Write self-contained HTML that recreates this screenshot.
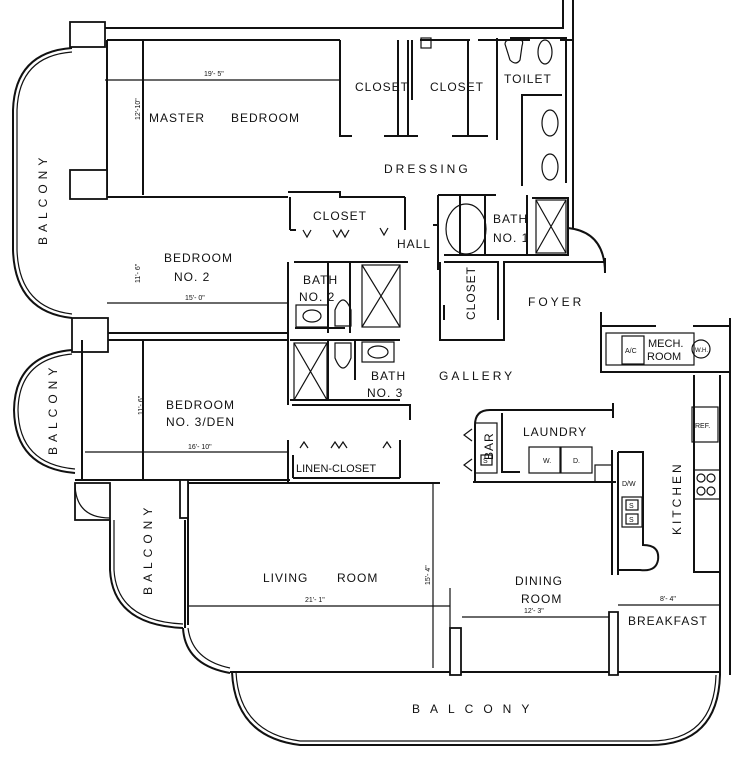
<!DOCTYPE html>
<html><head><meta charset="utf-8"><style>
body{margin:0;background:#fff;}
svg{display:block;}
text{font-family:"Liberation Sans",sans-serif;fill:#111;}
.w{fill:none;stroke:#111;stroke-width:2;}
.t{fill:none;stroke:#111;stroke-width:1.2;}
.f{fill:#fff;stroke:#111;stroke-width:1.8;}
</style></head><body>
<svg width="745" height="767" viewBox="0 0 745 767">
<path class="w" d="M105 28 H563 V0 M573 0 V185"/>
<path class="w" d="M107 40 H340 M340 40 V136 H352 M398 40 V136 M384 136 H418 M412 40 V100 M560 40 H573"/>
<rect class="f" x="70" y="22" width="35" height="25"/>
<path class="w" d="M107 40 V195 M143 40 V195"/>
<path class="w" d="M72 48 Q15 52 13 110 V250 Q15 312 72 318"/>
<path class="t" d="M72 52 Q19 56 17 110 V250 Q19 308 72 314"/>
<rect class="f" x="70" y="170" width="37" height="29"/>
<path class="w" d="M107 197 H288 M288 192 H340 V197 H405"/>
<path class="w" d="M408 40 V136 M420 40 H470 M468 40 V135 M452 136 H488 M478 40 H530"/>
<rect class="t" x="421" y="38" width="10" height="10"/>
<path class="w" d="M497 38 V140 M510 38 H566 V183 M562 95 H522 V186"/>
<path class="t" d="M505 44 Q505 40 510 40 H520 Q524 40 522 46 L520 60 Q516 66 510 60 Z"/>
<ellipse class="t" cx="545" cy="52" rx="7" ry="12"/>
<ellipse class="t" cx="550" cy="123" rx="8" ry="13"/>
<ellipse class="t" cx="550" cy="167" rx="8" ry="13"/>
<path class="w" d="M290 197 V230 M405 197 V230 M290 230 h6"/>
<path class="t" d="M303 230 l4 7 l4 -7 M333 230 l4 7 l4 -7 l4 7 l4 -7 M380 228 l4 7 l4 -7"/>
<path class="w" d="M107 318 V340 M107 333 H288 M288 262 V340 M294 262 H408 M328 262 V333 M350 262 V333 M295 328 H345"/>
<rect class="t" x="296" y="305" width="32" height="22"/>
<ellipse class="t" cx="312" cy="316" rx="9" ry="6"/>
<path class="t" d="M335 326 V310 Q343 290 351 310 V326 Z"/>
<rect class="t" x="362" y="265" width="38" height="62"/>
<path class="t" d="M362 265 L400 327 M400 265 L362 327"/>
<path class="w" d="M438 195 H496 M438 195 V270 M433 225 h6 M444 255 H568 V198 H532 M460 195 V255 M485 195 V255 M527 195 V255"/>
<ellipse class="t" cx="466" cy="229" rx="20" ry="25"/>
<rect class="t" x="536" y="200" width="30" height="53"/>
<path class="t" d="M536 200 L566 253 M566 200 L536 253"/>
<path class="w" d="M568 228 Q605 232 605 273 M605 258 V272 M573 185 V228"/>
<path class="w" d="M440 262 V340 H504 V262 H605 M444 262 H498 V320 M444 305 V320"/>
<rect class="f" x="72" y="318" width="36" height="34"/>
<path class="w" d="M72 350 Q15 355 14 410 Q15 468 75 473"/>
<path class="t" d="M72 354 Q19 359 18 410 Q19 464 75 469"/>
<path class="w" d="M82 340 V480 M108 340 H288 M143 340 V480"/>
<path class="w" d="M288 340 V405 M290 340 H400 M290 400 H400 M292 405 H410 V420 M328 340 V400 M355 340 V380"/>
<rect class="t" x="294" y="343" width="33" height="57"/>
<path class="t" d="M294 343 L327 400 M327 343 L294 400"/>
<path class="t" d="M335 343 V358 Q343 378 351 358 V343 Z"/>
<rect class="t" x="362" y="342" width="32" height="20"/>
<ellipse class="t" cx="378" cy="352" rx="10" ry="6"/>
<path class="w" d="M288 440 V482 M293 455 V478 M400 440 V478 M293 478 H400"/>
<path class="t" d="M300 448 l4 -6 l4 6 M331 448 l4 -6 l4 6 l4 -6 l4 6 M383 448 l4 -6 l4 6"/>
<path class="w" d="M75 480 H290 M185 483 H440 M188 483 V625 M185 520 V628"/>
<rect class="f" x="180" y="480" width="8" height="38"/>
<rect class="f" x="75" y="483" width="35" height="37"/>
<path class="t" d="M75 483 Q75 518 110 518"/>
<path class="w" d="M110 520 V570 Q113 625 183 628"/>
<path class="t" d="M114 520 V570 Q117 621 183 624"/>
<path class="w" d="M183 628 Q185 665 230 673"/>
<path class="t" d="M188 628 Q192 660 230 668"/>
<path class="w" d="M230 672 H720 M720 375 V675 M730 318 V675"/>
<path class="w" d="M232 672 Q235 737 300 745 H650 Q718 745 720 675"/>
<path class="t" d="M236 672 Q239 733 300 741 H650 Q714 741 716 675"/>
<path class="t" d="M433 483 V668 M188 606 H450 M462 617 H612 M618 605 H720 M105 80 H340 M143 40 V195 M107 303 H287 M85 452 H288 M450 588 V628"/>
<rect class="f" x="450" y="628" width="11" height="47"/>
<path class="f" d="M609 612 h9 v63 h-9 Z"/>
<path class="w" d="M475 482 V425 Q475 410 490 410 H613 M613 403 V418 M502 413 V472 H520 M473 482 H616 M612 450 V575 M618 452 V575 M618 452 H643 V545 Q660 545 658 560 Q656 572 640 570 H618"/>
<rect class="t" x="475" y="423" width="22" height="50"/>
<rect class="t" x="481" y="455" width="11" height="10"/>
<rect class="t" x="529" y="447" width="31" height="26"/>
<rect class="t" x="561" y="447" width="31" height="26"/>
<rect class="t" x="595" y="465" width="17" height="17"/>
<rect class="t" x="622" y="497" width="20" height="30"/>
<rect class="t" x="626" y="500" width="12" height="10"/>
<rect class="t" x="626" y="514" width="12" height="10"/>
<path class="t" d="M472 429 l-8 6 l8 6 M472 459 l-8 6 l8 6"/>
<path class="w" d="M601 312 V372 H730 M601 326 H656 M693 326 H730 M694 375 V572 H720"/>
<rect class="t" x="606" y="333" width="88" height="32"/>
<rect class="t" x="622" y="336" width="22" height="28"/>
<circle class="t" cx="701" cy="349" r="9"/>
<rect class="t" x="692" y="407" width="26" height="35"/>
<rect class="t" x="694" y="470" width="26" height="29"/>
<circle class="t" cx="701" cy="478" r="4"/><circle class="t" cx="711" cy="478" r="4"/><circle class="t" cx="701" cy="491" r="4"/><circle class="t" cx="711" cy="491" r="4"/>
<g font-size="12" letter-spacing="1">
<text x="149" y="122">MASTER</text><text x="231" y="122">BEDROOM</text>
<text x="355" y="91">CLOSET</text><text x="430" y="91">CLOSET</text>
<text x="504" y="83">TOILET</text>
<text x="384" y="173" letter-spacing="3">DRESSING</text>
<text x="313" y="220">CLOSET</text>
<text x="397" y="248">HALL</text>
<text x="493" y="223">BATH</text><text x="493" y="242">NO. 1</text>
<text x="164" y="262">BEDROOM</text><text x="174" y="281">NO. 2</text>
<text x="303" y="284">BATH</text><text x="299" y="301">NO. 2</text>
<text x="528" y="306" letter-spacing="3">FOYER</text>
<text x="371" y="380">BATH</text><text x="367" y="397">NO. 3</text>
<text x="439" y="380" letter-spacing="3">GALLERY</text>
<text x="166" y="409">BEDROOM</text><text x="166" y="426">NO. 3/DEN</text>
<text x="296" y="472" font-size="11" letter-spacing="0">LINEN-CLOSET</text>
<text x="523" y="436">LAUNDRY</text>
<text x="648" y="347" font-size="11" letter-spacing="0">MECH.</text>
<text x="647" y="360" font-size="11" letter-spacing="0">ROOM</text>
<text x="263" y="582">LIVING</text><text x="337" y="582">ROOM</text>
<text x="515" y="585">DINING</text><text x="521" y="603">ROOM</text>
<text x="628" y="625">BREAKFAST</text>
<text x="412" y="713" letter-spacing="10">BALCONY</text>
</g>
<g font-size="12" letter-spacing="5">
<text transform="translate(47,245) rotate(-90)">BALCONY</text>
<text transform="translate(57,455) rotate(-90)">BALCONY</text>
<text transform="translate(152,595) rotate(-90)">BALCONY</text>
<text transform="translate(681,535) rotate(-90)" letter-spacing="3">KITCHEN</text>
<text transform="translate(475,320) rotate(-90)" letter-spacing="1">CLOSET</text>
<text transform="translate(493,460) rotate(-90)" letter-spacing="1">BAR</text>
</g>
<g font-size="7">
<text x="204" y="76">19'- 5"</text><text x="185" y="300">15'- 0"</text><text x="188" y="449">16'- 10"</text>
<text x="305" y="602">21'- 1"</text><text x="524" y="613">12'- 3"</text><text x="660" y="601">8'- 4"</text>
<text x="483" y="463">S</text><text x="629" y="508">S</text><text x="629" y="522">S</text>
<text x="543" y="463">W.</text><text x="573" y="463">D.</text><text x="622" y="486">D/W</text>
<text x="695" y="428">REF.</text><text x="625" y="353">A/C</text><text x="695" y="352" font-size="6">W.H.</text>
<text transform="translate(140,120) rotate(-90)">12'-10"</text>
<text transform="translate(140,283) rotate(-90)">11'- 6"</text>
<text transform="translate(143,415) rotate(-90)">11'- 6"</text>
<text transform="translate(430,585) rotate(-90)">15'- 4"</text>
</g>
</svg>
</body></html>
